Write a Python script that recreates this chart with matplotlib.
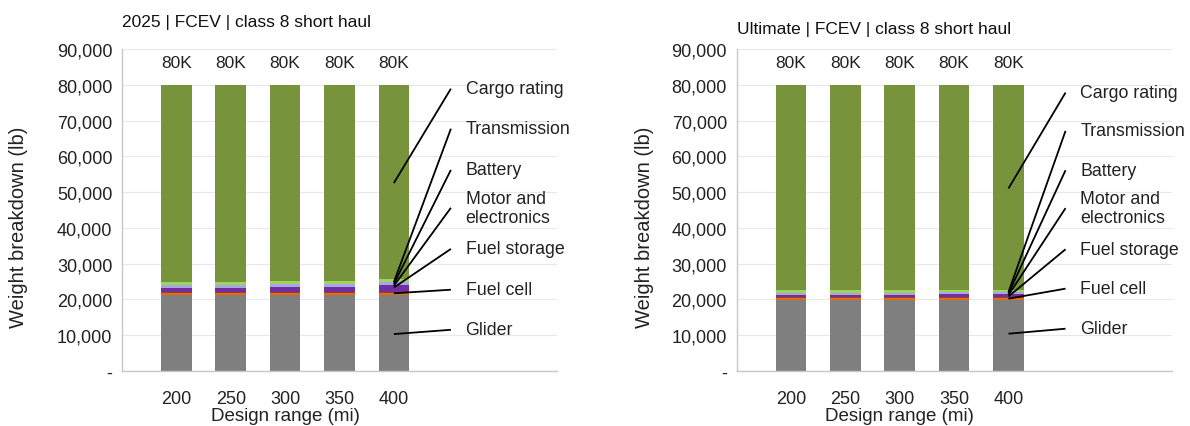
import matplotlib
matplotlib.use("Agg")
import matplotlib.pyplot as plt
import numpy as np

plt.rcParams['font.family'] = ['Liberation Sans', 'DejaVu Sans']

# ---------------- data ----------------
ranges = ["200", "250", "300", "350", "400"]
components = ["Glider", "Fuel cell", "Fuel storage", "Motor and\nelectronics",
              "Battery", "Transmission", "Cargo rating"]
gvw_total = 80000
top_labels = ["80K", "80K", "80K", "80K", "80K"]

# 2025 | FCEV | class 8 short haul  (lb)
glider_2025 = [21200, 21200, 21200, 21200, 21200]
fuelcell_2025 = [550, 550, 550, 550, 550]
fuelstorage_2025 = [250, 250, 300, 300, 350]
motor_2025 = [1100, 1100, 1400, 1400, 1900]
battery_2025 = [900, 900, 900, 900, 900]
transmission_2025 = [800, 800, 800, 800, 800]

# Ultimate | FCEV | class 8 short haul  (lb)
glider_ult = [19700, 19700, 19700, 19700, 19700]
fuelcell_ult = [750, 750, 750, 750, 750]
fuelstorage_ult = [300, 300, 300, 300, 300]
motor_ult = [550, 550, 550, 650, 650]
battery_ult = [550, 550, 550, 550, 550]
transmission_ult = [800, 800, 800, 800, 800]

colors = ["#7F7F7F", "#E46C0A", "#A33A32", "#7030A0", "#A9A4E4", "#9CD55A", "#77933C"]

# label layout (text y, line target y) per panel
label_y_2025 = [11500, 22700, 34100, 45600, 56200, 67700, 78900]
target_y_2025 = [10300, 21700, 23300, 23800, 24300, 24800, 52500]
label_y_ult = [11800, 23000, 34000, 45500, 56100, 67100, 77800]
target_y_ult = [10400, 20200, 20800, 21200, 21600, 22000, 51000]


def draw(ax, title, parts, label_y, target_y, title_y, ylab_x):
    x = np.arange(len(ranges))
    cargo = [gvw_total - sum(p[i] for p in parts) for i in range(len(ranges))]
    series = list(parts) + [cargo]
    bottom = np.zeros(len(ranges))
    for vals, c in zip(series, colors):
        ax.bar(x, vals, width=0.56, bottom=bottom, color=c, zorder=2)
        bottom += np.array(vals)
    for xi, t in zip(x, top_labels):
        ax.text(xi, 86200, t, ha="center", va="center", fontsize=12.5, color="#222222")
    ax.set_xlim(-1, 7)
    ax.set_ylim(0, 90000)
    ax.set_yticks(np.arange(0, 90001, 10000))
    ax.set_yticklabels(["-"] + [f"{v:,}" for v in range(10000, 90001, 10000)])
    ax.set_xticks(x)
    ax.set_xticklabels(ranges)
    ax.tick_params(length=0, labelsize=13, colors="#222222", pad=7)
    ax.tick_params(axis="x", pad=14)
    ax.grid(axis="y", color="#E8E8E8", lw=0.8, zorder=0)
    for s in ["top", "right"]:
        ax.spines[s].set_visible(False)
    for s in ["left", "bottom"]:
        ax.spines[s].set_color("#C8C8C8")
        ax.spines[s].set_linewidth(1.0)
    ax.set_ylabel("Weight breakdown (lb)", fontsize=14.5, color="#222222")
    ax.yaxis.set_label_coords(ylab_x, 0.45)
    ax.set_xlabel("Design range (mi)", fontsize=13.5, color="#222222", labelpad=0)
    ax.xaxis.label.set_x(3 / 8)
    ax.text(0, title_y, title, transform=ax.transAxes, fontsize=12.5,
            ha="left", va="center", color="#111111")
    for name, ly, ty in zip(components, label_y, target_y):
        ax.text(5.32, ly, name, ha="left", va="center", fontsize=12.8,
                color="#222222", linespacing=1.15)
        ax.plot([4.0, 5.05], [ty, ly], color="black", lw=1.3, zorder=5,
                solid_capstyle="butt")


fig = plt.figure(figsize=(11.9, 4.27), dpi=100)
ax1 = fig.add_axes([0.1025, 0.129, 0.3655, 0.754])
ax2 = fig.add_axes([0.619, 0.129, 0.3655, 0.754])

draw(ax1, "2025 | FCEV | class 8 short haul",
     [glider_2025, fuelcell_2025, fuelstorage_2025, motor_2025, battery_2025, transmission_2025],
     label_y_2025, target_y_2025, 1.085, -0.215)
draw(ax2, "Ultimate | FCEV | class 8 short haul",
     [glider_ult, fuelcell_ult, fuelstorage_ult, motor_ult, battery_ult, transmission_ult],
     label_y_ult, target_y_ult, 1.065, -0.19)

fig.savefig("out.png", dpi=100)
